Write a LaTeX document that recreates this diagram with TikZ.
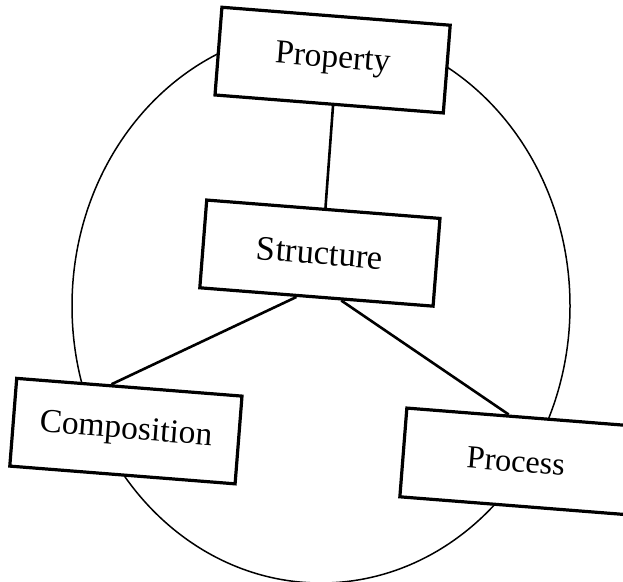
\documentclass[tikz,border=0pt]{standalone}
\usepackage{fontspec}
\setmainfont{Liberation Serif}
\usetikzlibrary{calc}
\begin{document}
\begin{tikzpicture}[x=1pt,y=-1pt,
  box/.style={draw, line width=3.2pt, fill=white, rotate=-4.5, inner sep=0pt,
    minimum height=88pt, font=\fontsize{33.5}{36}\selectfont},
  link/.style={line width=2.6pt},
  ring/.style={line width=1.5pt}]
\useasboundingbox (0,0) rectangle (623,581);
\clip (0,0) rectangle (623,581);
\draw[ring] (321,306) ellipse [x radius=249, y radius=277];
\node[box, minimum width=229pt] (prop) at (332.6,60.1) {Property};
\node[box, minimum width=234pt, font=\fontsize{34.5}{36}\selectfont] (struct) at (319.9,253.1) {Structure};
\node[box, minimum width=226pt] (comp) at (125.9,431.1) {Composition};
\node[box, minimum width=226pt, minimum height=89pt, font=\fontsize{32.2}{36}\selectfont] (proc) at (516,461.3) {Process};
\draw[link] ($(prop.south)!4pt!(prop.south east)$) -- ($(struct.north)!2pt!(struct.north east)$);
\draw[link] ($(struct.south)!20pt!(struct.south west)$) -- ($(comp.north)!18pt!(comp.north west)$);
\draw[link] ($(struct.south)!25pt!(struct.south east)$) -- ($(proc.north)!11pt!(proc.north west)$);
\end{tikzpicture}
\end{document}
